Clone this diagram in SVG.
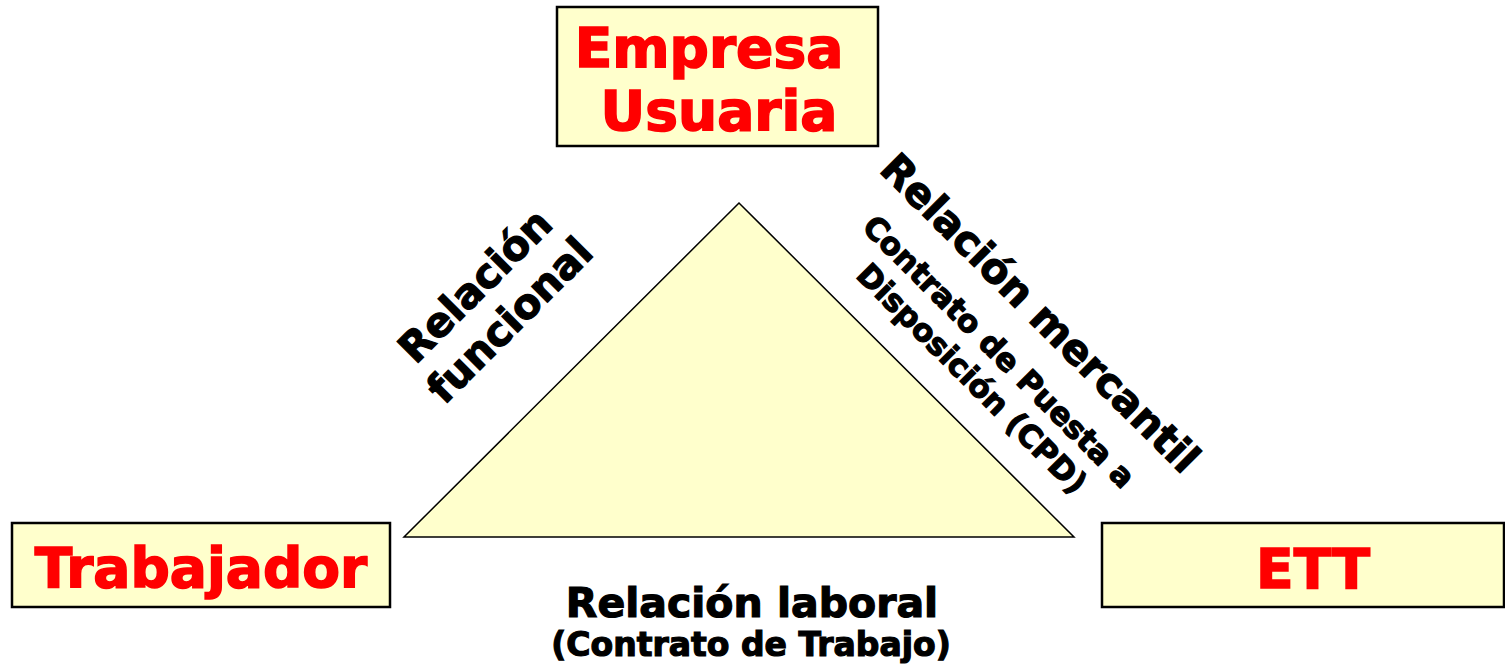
<svg xmlns="http://www.w3.org/2000/svg" width="1505" height="669" viewBox="0 0 1505 669">
<style>
.box{fill:#FFFFCC;stroke:#000;stroke-width:2.5}
.node{font-family:"DejaVu Sans",Verdana,sans-serif;font-weight:bold;font-size:55px;fill:#FF0000;stroke:#FF0000;stroke-width:1.6;text-anchor:middle}
.lbl{font-family:"DejaVu Sans",Verdana,sans-serif;font-weight:bold;fill:#000;stroke:#000;stroke-width:1.2;text-anchor:middle}
</style>
<rect width="1505" height="669" fill="#fff"/>
<g id="connectors">
<polygon points="739,203 404,537 1074,537" fill="#FFFFCC" stroke="#000" stroke-width="1.5"/>
<g transform="rotate(-45)">
<text class="lbl" font-size="41" x="134" y="552">Relación</text>
<text class="lbl" font-size="41" x="134" y="601">funcional</text>
</g>
<g transform="rotate(45)">
<text class="lbl" font-size="41" x="957" y="-500">Relación mercantil</text>
<text class="lbl" font-size="31" x="955" y="-447">Contrato de Puesta a</text>
<text class="lbl" font-size="31" x="955" y="-409">Disposición (CPD)</text>
</g>
<text class="lbl" font-size="41" x="752" y="617">Relación laboral</text>
<text class="lbl" font-size="33" x="751" y="656">(Contrato de Trabajo)</text>
</g>
<g id="empresa">
<rect class="box" x="557" y="7" width="321" height="139"/>
<text class="node" x="709" y="67">Empresa</text>
<text class="node" x="719" y="130">Usuaria</text>
</g>
<g id="trabajador">
<rect class="box" x="12" y="523" width="378" height="84"/>
<text class="node" font-size="56.5" x="201" y="587">Trabajador</text>
</g>
<g id="ett">
<rect class="box" x="1102" y="523" width="402" height="84"/>
<text class="node" x="1313" y="588">ETT</text>
</g>
</svg>
